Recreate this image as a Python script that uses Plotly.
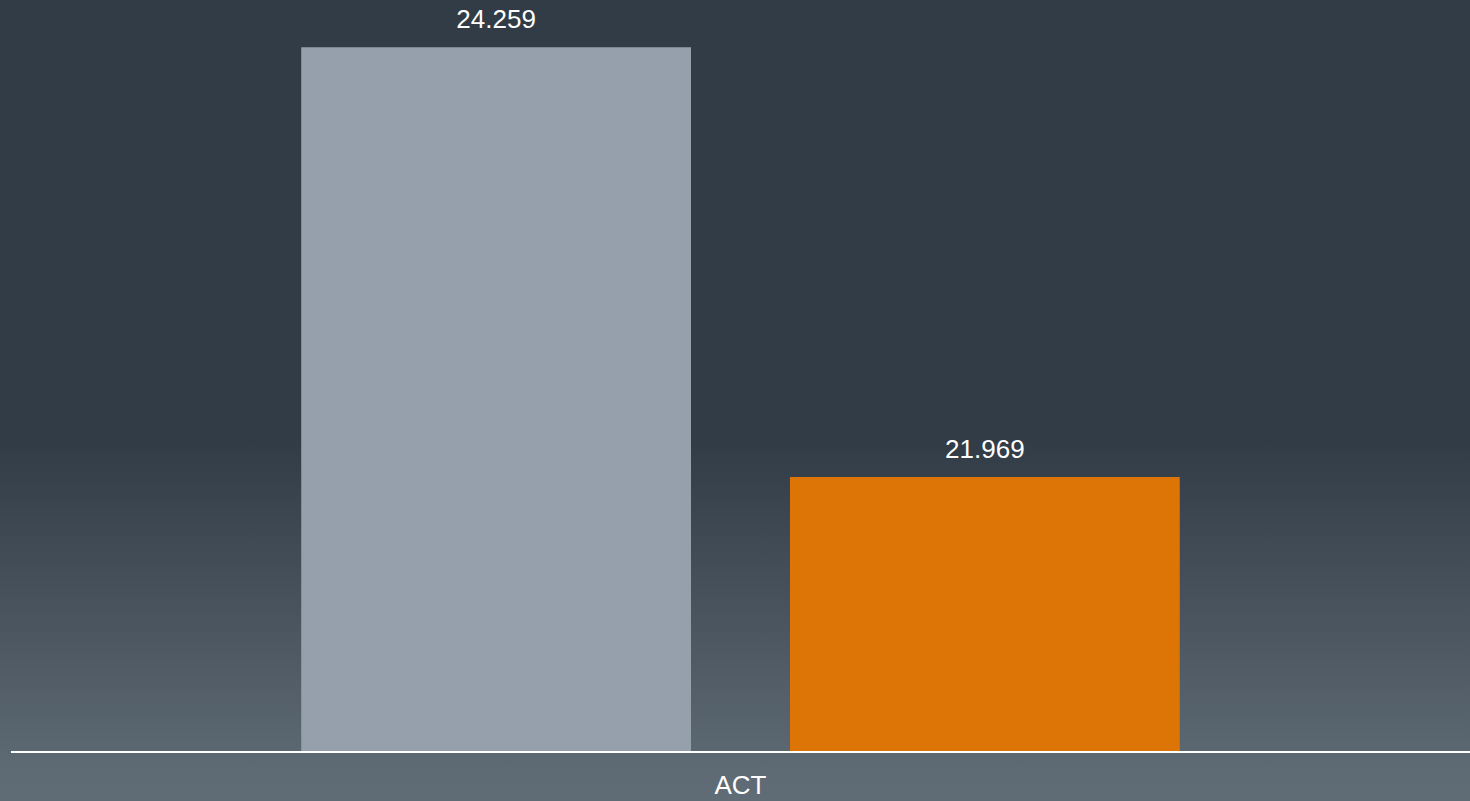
import base64
import plotly.graph_objects as go

categories = ["ACT"]
series_names = ["Prior", "Current"]
series_values = [[24.259], [21.969]]
series_colors = ["#96a0ac", "#dc7506"]
value_labels = [["24.259"], ["21.969"]]

W, H = 1470, 801
ML, MR, MT, MB = 11, 0, 0, 50
PW, PH = W - ML - MR, H - MT - MB
EXT = 6

svg = (
    f'<svg xmlns="http://www.w3.org/2000/svg" width="{W}" height="{H}" '
    f'viewBox="0 0 {W} {H}" preserveAspectRatio="none">'
    '<defs><linearGradient id="g" x1="0" y1="0" x2="0" y2="1">'
    '<stop offset="0" stop-color="#323c46"/>'
    '<stop offset="0.55" stop-color="#323c46"/>'
    '<stop offset="0.96" stop-color="#5e6a74"/>'
    '<stop offset="1" stop-color="#606c76"/>'
    '</linearGradient></defs>'
    f'<rect x="0" y="0" width="{W}" height="{H}" fill="url(#g)"/></svg>'
)
bg_uri = "data:image/svg+xml;base64," + base64.b64encode(svg.encode()).decode()

fig = go.Figure()
for i, name in enumerate(series_names):
    fig.add_trace(go.Bar(
        x=categories, y=series_values[i], name=name,
        marker=dict(color=series_colors[i], line=dict(width=0)),
        offsetgroup=str(i), hoverinfo="skip",
    ))
for i, name in enumerate(series_names):
    fig.add_trace(go.Scatter(
        x=categories, y=series_values[i], text=value_labels[i],
        mode="markers+text", textposition="top center",
        marker=dict(size=18, opacity=0),
        textfont=dict(family="Liberation Sans, Arial, sans-serif", size=26, color="#ffffff"),
        offsetgroup=str(i), showlegend=False, hoverinfo="skip", cliponaxis=False,
    ))

fig.update_layout(
    width=W, height=H,
    margin=dict(l=ML, r=MR, t=MT, b=MB, pad=0, autoexpand=False),
    paper_bgcolor="#323c46",
    plot_bgcolor="rgba(0,0,0,0)",
    barmode="group", bargap=0.33, bargroupgap=0.2025,
    scattermode="group", scattergap=0.33,
    showlegend=False,
    font=dict(family="Liberation Sans, Arial, sans-serif", size=26, color="#ffffff"),
    xaxis=dict(
        showgrid=False, zeroline=False, showline=True, linecolor="#ffffff", linewidth=2,
        ticks="", tickfont=dict(size=26, color="#ffffff"), ticklabelstandoff=10,
        automargin=False,
    ),
    yaxis=dict(
        range=[20.51, 24.51], visible=False, showgrid=False, zeroline=False,
        automargin=False,
    ),
    images=[dict(
        source=bg_uri, xref="paper", yref="paper",
        x=-(ML + EXT) / PW, y=1 + (MT + EXT) / PH,
        sizex=(W + 2 * EXT) / PW, sizey=(H + 2 * EXT) / PH,
        xanchor="left", yanchor="top", sizing="stretch", layer="below",
    )],
)

fig.write_html(
    "out.html",
    config={"displayModeBar": False},
    post_script="document.body.style.margin='0';document.body.style.overflow='hidden';",
)
